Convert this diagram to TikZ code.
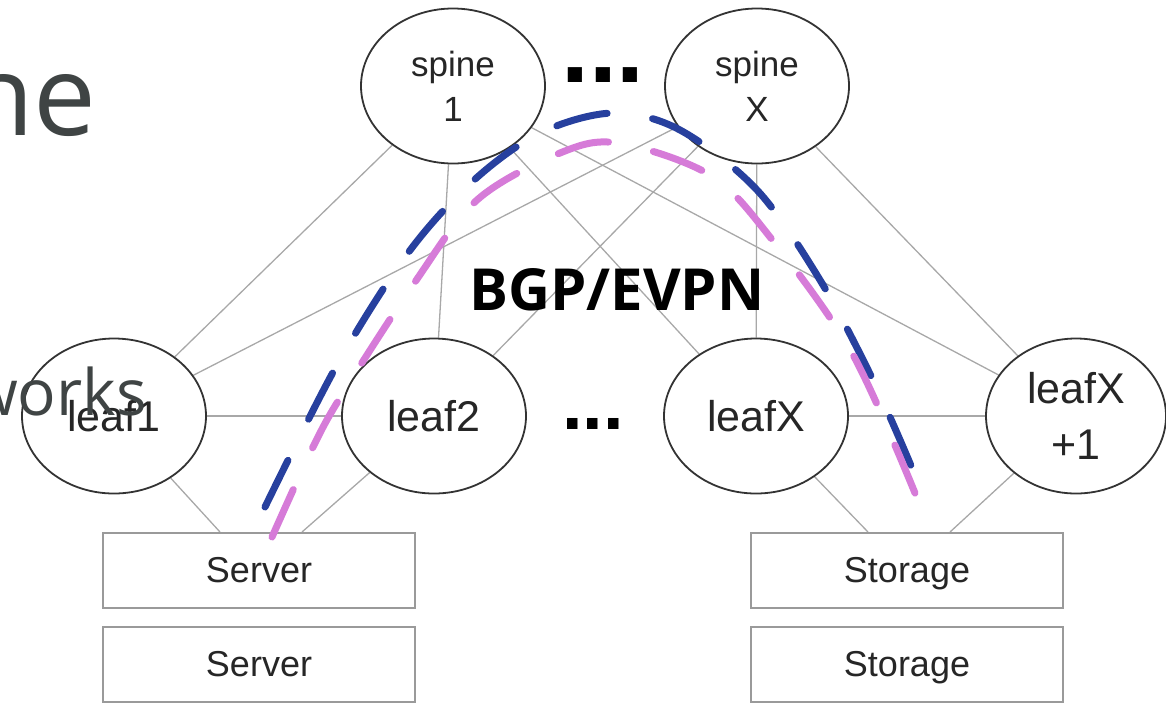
\documentclass[tikz,border=0pt]{standalone}
\usepackage{fontspec}
\usetikzlibrary{shapes.geometric}
\newfontfamily\diagfont{Liberation Sans}
\newfontfamily\slidefont{Open Sans}
\definecolor{slidegray}{HTML}{3F4444}
\definecolor{linkgray}{HTML}{A8A8A8}
\definecolor{boxgray}{HTML}{9A9A9A}
\definecolor{rimgray}{HTML}{333333}
\definecolor{pathblue}{HTML}{27409E}
\definecolor{pathpink}{HTML}{D67BD8}
\pgfdeclarelayer{bg}
\pgfsetlayers{bg,main}
\tikzset{
  switchnode/.style={ellipse, draw=rimgray, line width=1.8pt, fill=white,
    minimum width=184pt, minimum height=155pt, inner sep=0pt, align=center,
    text=black!85},
  spinetext/.style={font=\diagfont\fontsize{35}{45}\selectfont},
  leaftext/.style={font=\diagfont\fontsize{43}{56}\selectfont},
  hostbox/.style={rectangle, draw=boxgray, line width=2pt, fill=white,
    minimum width=312pt, minimum height=75pt, inner sep=0pt,
    text height=30pt, text depth=6pt,
    font=\diagfont\fontsize{36}{40}\selectfont, text=black!85},
  link/.style={draw=linkgray, line width=1.3pt},
  evpnpath/.style={line width=7pt, line cap=round, dash pattern=on 52pt off 46pt},
}
\begin{document}
\begin{tikzpicture}[x=1pt, y=-1pt]
\useasboundingbox (0,0) rectangle (1166,702);

% spine layer
\node[switchnode, spinetext] (spine1) at (453,86) {spine\\1};
\node[switchnode, spinetext] (spineX) at (757,86) {spine\\X};
\node[font=\diagfont\bfseries\fontsize{100}{100}\selectfont, inner sep=0pt, anchor=base]
  (spinedots) at (603,82) {...};

% leaf layer
\node[switchnode, leaftext] (leaf1) at (114,416) {leaf1};
\node[switchnode, leaftext] (leaf2) at (434,416) {leaf2};
\node[switchnode, leaftext] (leafX) at (756,416) {leafX};
\node[switchnode, leaftext, minimum width=180pt] (leafX1) at (1076,416) {leafX\\+1};
\node[font=\diagfont\bfseries\fontsize{74}{74}\selectfont, inner sep=0pt, anchor=base]
  (leafdots) at (593,429) {...};

% hosts
\node[hostbox] (srv1) at (259,570.5) {Server};
\node[hostbox] (srv2) at (259,664) {Server};
\node[hostbox] (sto1) at (907,570.5) {Storage};
\node[hostbox] (sto2) at (907,664) {Storage};

% fabric label
\node[font=\slidefont\bfseries\fontsize{58}{60}\selectfont, inner sep=0pt, anchor=base]
  (fabric) at (617,310) {BGP/EVPN};

% full mesh between spines and leaves, leaf peer links, host uplinks
\begin{pgfonlayer}{bg}
  \foreach \s in {spine1, spineX}
    \foreach \l in {leaf1, leaf2, leafX, leafX1}
      \draw[link] (\s) -- (\l);
  \draw[link] (leaf1) -- (leaf2);
  \draw[link] (leafX) -- (leafX1);
  \draw[link] (leaf1) -- ([xshift=-39pt]srv1.north);
  \draw[link] (leaf2) -- ([xshift=43pt]srv1.north);
  \draw[link] (leafX) -- ([xshift=-39pt]sto1.north);
  \draw[link] (leafX1) -- ([xshift=43pt]sto1.north);
\end{pgfonlayer}

% traffic paths from server to storage over the spines
\draw[evpnpath, draw=pathblue] plot[smooth, tension=0.55] coordinates {
  (265,507) (337,365) (408,253) (473,181) (540,133) (613,113)
  (680,130) (757,190) (820,280) (873,380) (912,468)};
\draw[evpnpath, draw=pathpink] plot[smooth, tension=0.55] coordinates {
  (272,537) (313,447) (343,393) (415,282) (477,200) (560,153)
  (618,143) (710,175) (770,237) (852,353) (917,498)};

% slide text around the figure
\node[font=\slidefont\fontsize{112}{112}\selectfont, text=slidegray,
  inner sep=0pt, anchor=base east] (title) at (97,135) {ne};
\node[font=\slidefont\fontsize{64}{64}\selectfont, text=slidegray,
  inner sep=0pt, anchor=base east] (bullet) at (147,415) {works};
\end{tikzpicture}
\end{document}
